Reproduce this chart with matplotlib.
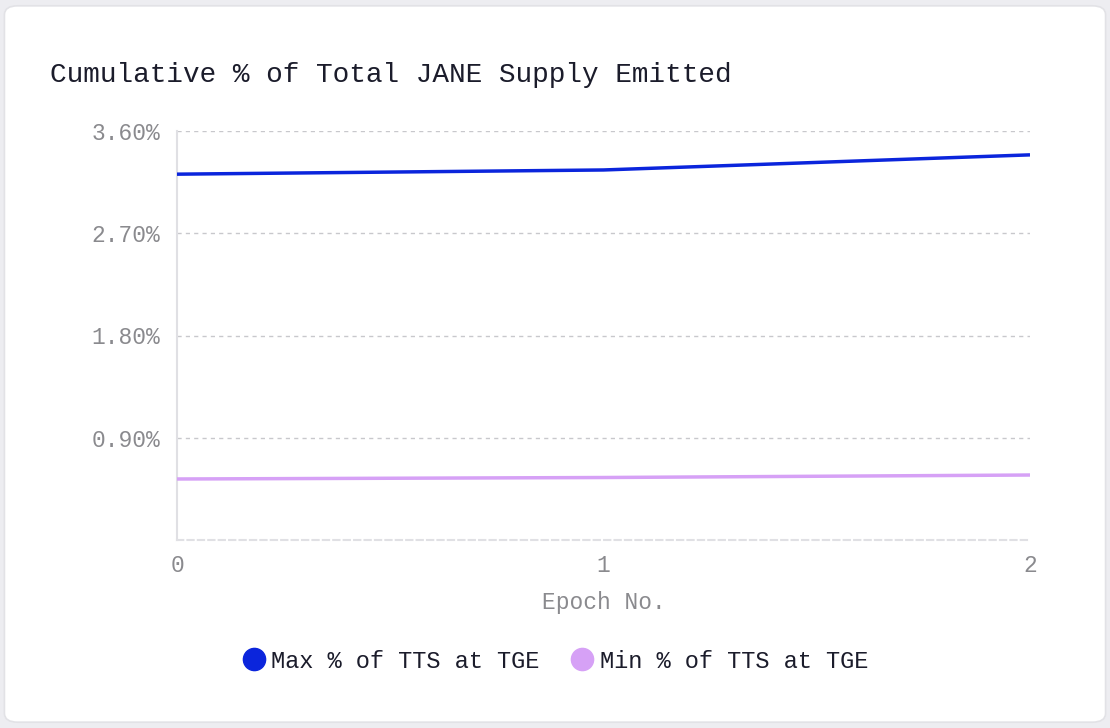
import matplotlib
matplotlib.use("Agg")
import matplotlib.pyplot as plt
from matplotlib.patches import FancyBboxPatch
from matplotlib.lines import Line2D

# Data
epochs = [0, 1, 2]
max_pct = [3.22, 3.257, 3.39]
min_pct = [0.537, 0.550, 0.572]
series_names = ["Max % of TTS at TGE", "Min % of TTS at TGE"]
y_ticks = [0.9, 1.8, 2.7, 3.6]
y_tick_labels = ["0.90%", "1.80%", "2.70%", "3.60%"]
x_ticks = [0, 1, 2]
title = "Cumulative % of Total JANE Supply Emitted"
x_label = "Epoch No."

mono = ["Liberation Mono", "DejaVu Sans Mono"]
plt.rcParams['font.family'] = mono

fig = plt.figure(figsize=(11.1, 7.28), dpi=100)
fig.patch.set_facecolor("#ededf1")

card = FancyBboxPatch((0.004, 0.008), 0.992, 0.984,
                      boxstyle="round,pad=0,rounding_size=0.012",
                      transform=fig.transFigure, facecolor="white",
                      edgecolor="#e2e2e6", linewidth=1.2, zorder=-10)
fig.patches.append(card)

ax = fig.add_axes([177/1110, (728-540)/728, (1030-177)/1110, (540-131)/728])
ax.set_facecolor("none")
ax.set_zorder(5)

c_max = "#0b25dc"
c_min = "#d6a1f6"
ax.plot(epochs, max_pct, color=c_max, lw=2.5, solid_capstyle="butt", zorder=3)
ax.plot(epochs, min_pct, color=c_min, lw=2.5, solid_capstyle="butt", zorder=3)

ax.set_xlim(0, 2)
ax.set_ylim(0, 3.6)
ax.set_yticks(y_ticks)
ax.set_yticklabels(y_tick_labels)
ax.set_xticks(x_ticks)
ax.set_xticklabels([str(v) for v in x_ticks])
ax.tick_params(axis="both", length=0, labelsize=16.5, colors="#8a8a8e")
ax.tick_params(axis="y", pad=12)
ax.tick_params(axis="x", pad=10)
ax.grid(axis="y", color="#c8c8cc", linestyle=(0, (3, 3)), linewidth=1)
ax.set_axisbelow(True)
for s in ["top", "right"]:
    ax.spines[s].set_visible(False)
ax.spines["left"].set_color("#e0e0e4")
ax.spines["left"].set_linewidth(1.5)
ax.spines["bottom"].set_color("#e0e0e4")
ax.spines["bottom"].set_linewidth(1.5)
ax.spines["bottom"].set_linestyle((0, (3, 2)))

ax.set_xlabel(x_label, fontsize=16.5, color="#8a8a8e", labelpad=10)

fig.text(50/1110, 1 - 75/728, title, fontsize=20, color="#1b1c2b",
         va="center", ha="left")

handles = [Line2D([], [], marker="o", linestyle="none", markersize=16,
                  markerfacecolor=c, markeredgecolor=c) for c in (c_max, c_min)]
fig.legend(handles, series_names, loc="center", bbox_to_anchor=(555/1110, 1 - 661/728),
           ncol=2, frameon=False, fontsize=17, labelcolor="#1b1c2b",
           handletextpad=0.25, columnspacing=1.3, handlelength=1.0)

fig.savefig("out.png", dpi=100, facecolor=fig.get_facecolor())
